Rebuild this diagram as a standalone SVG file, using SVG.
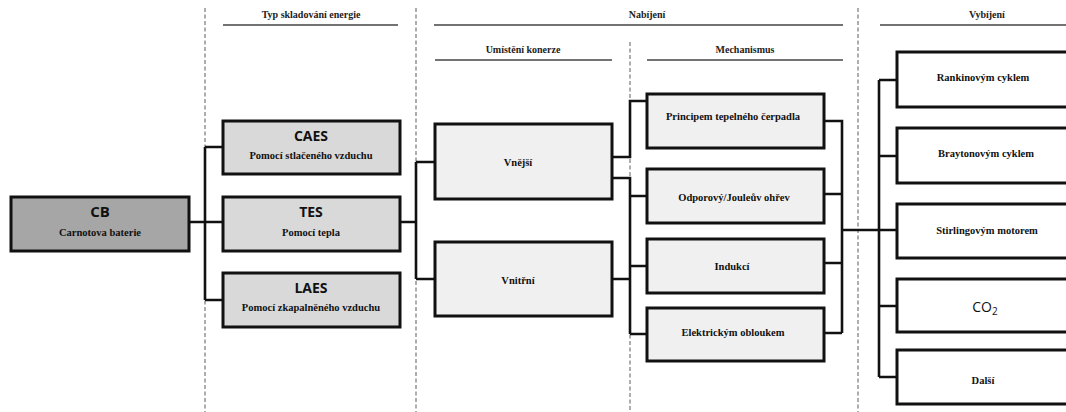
<svg xmlns="http://www.w3.org/2000/svg" width="1066" height="412" viewBox="0 0 1066 412">
<style>
.bg{fill:#fff}
.dash{stroke:#777;stroke-width:1.2;stroke-dasharray:4 2.5;fill:none}
.hl{stroke:#444;stroke-width:1.3;fill:none}
.hdr{font-family:"Liberation Serif",serif;font-weight:bold;font-size:10px;fill:#222;text-anchor:middle}
.box{stroke:#111;stroke-width:3}
.dark{fill:#a6a6a6}
.mid{fill:#d9d9d9}
.light{fill:#f0f0f0}
.white{fill:#fff}
.t{font-family:"Liberation Serif",serif;font-weight:bold;font-size:10.5px;fill:#111;text-anchor:middle}
.big{font-family:"Open Sans","Liberation Sans",sans-serif;font-weight:bold;font-size:14px;fill:#111;text-anchor:middle}
.co{font-family:"Open Sans","Liberation Sans",sans-serif;font-size:14px;fill:#111;text-anchor:middle}
.conn{stroke:#111;stroke-width:2.6;fill:none}
</style>
<rect class="bg" x="0" y="0" width="1066" height="412"/>
<g id="guides">
<line class="dash" x1="205" y1="8" x2="205" y2="412"/>
<line class="dash" x1="416" y1="8" x2="416" y2="412"/>
<line class="dash" x1="630" y1="42" x2="630" y2="412"/>
<line class="dash" x1="858" y1="8" x2="858" y2="412"/>
</g>
<g id="headers">
<text class="hdr" x="311" y="18">Typ skladování energie</text>
<line class="hl" x1="223" y1="25" x2="398" y2="25"/>
<text class="hdr" x="647" y="18">Nabíjení</text>
<line class="hl" x1="434" y1="25" x2="843" y2="25"/>
<text class="hdr" x="523" y="53">Umístění  konerze</text>
<line class="hl" x1="435" y1="60" x2="612" y2="60"/>
<text class="hdr" x="745" y="53">Mechanismus</text>
<line class="hl" x1="647" y1="60" x2="843" y2="60"/>
<text class="hdr" x="987" y="18">Vybíjení</text>
<line class="hl" x1="880" y1="25" x2="1066" y2="25"/>
</g>
<g id="connectors">
<path class="conn" d="M189 222H205M205 147V300M205 147H223M205 222H223M205 300H223"/>
<path class="conn" d="M400 222H416M416 162V279M416 162H435M416 279H435"/>
<path class="conn" d="M612 157H630V101H647"/>
<path class="conn" d="M612 178H630V334M630 196H647M630 266H647M630 334H647M612 279H630"/>
<path class="conn" d="M824 121H842V333M824 194H842M824 263H842M824 333H842M842 230H879"/>
<path class="conn" d="M879 80V377M879 80H897M879 156H897M879 230H897M879 306H897M879 377H897"/>
</g>
<g id="CB">
<rect class="box dark" x="11" y="197" width="178" height="54"/>
<text class="big" x="100" y="217" style="font-size:15px">CB</text>
<text class="t" x="100" y="236">Carnotova baterie</text>
</g>
<g id="CAES">
<rect class="box mid" x="223" y="121" width="177" height="53"/>
<text class="big" x="311" y="141">CAES</text>
<text class="t" x="311" y="159">Pomocí stlačeného vzduchu</text>
</g>
<g id="TES">
<rect class="box mid" x="223" y="197" width="177" height="54"/>
<text class="big" x="311" y="217">TES</text>
<text class="t" x="311" y="236">Pomocí tepla</text>
</g>
<g id="LAES">
<rect class="box mid" x="223" y="273" width="177" height="54"/>
<text class="big" x="311" y="293">LAES</text>
<text class="t" x="311" y="311">Pomocí zkapalněného vzduchu</text>
</g>
<g id="Vnejsi">
<rect class="box light" x="435" y="124" width="177" height="75"/>
<text class="t" x="518" y="166">Vnější</text>
</g>
<g id="Vnitrni">
<rect class="box light" x="435" y="242" width="177" height="74"/>
<text class="t" x="518" y="284">Vnitřní</text>
</g>
<g id="Principem">
<rect class="box light" x="647" y="94" width="177" height="54"/>
<text class="t" x="733" y="120">Principem tepelného čerpadla</text>
</g>
<g id="Odporovy">
<rect class="box light" x="647" y="169" width="177" height="54"/>
<text class="t" x="734" y="201">Odporový/Jouleův ohřev</text>
</g>
<g id="Indukci">
<rect class="box light" x="647" y="239" width="177" height="54"/>
<text class="t" x="732" y="270">Indukcí</text>
</g>
<g id="Elektrickym">
<rect class="box light" x="647" y="308" width="177" height="53"/>
<text class="t" x="733" y="336">Elektrickým obloukem</text>
</g>
<g id="Rankin">
<rect class="box white" x="897" y="52" width="180" height="55"/>
<text class="t" x="983" y="81">Rankinovým cyklem</text>
</g>
<g id="Brayton">
<rect class="box white" x="897" y="128" width="180" height="55"/>
<text class="t" x="986" y="157">Braytonovým cyklem</text>
</g>
<g id="Stirling">
<rect class="box white" x="897" y="204" width="180" height="54"/>
<text class="t" x="987" y="234">Stirlingovým motorem</text>
</g>
<g id="CO2">
<rect class="box white" x="897" y="279" width="180" height="53"/>
<text class="co" x="985" y="312">CO<tspan font-size="10" dy="3">2</tspan></text>
</g>
<g id="Dalsi">
<rect class="box white" x="897" y="350" width="180" height="54"/>
<text class="t" x="983" y="384">Další</text>
</g>
</svg>
